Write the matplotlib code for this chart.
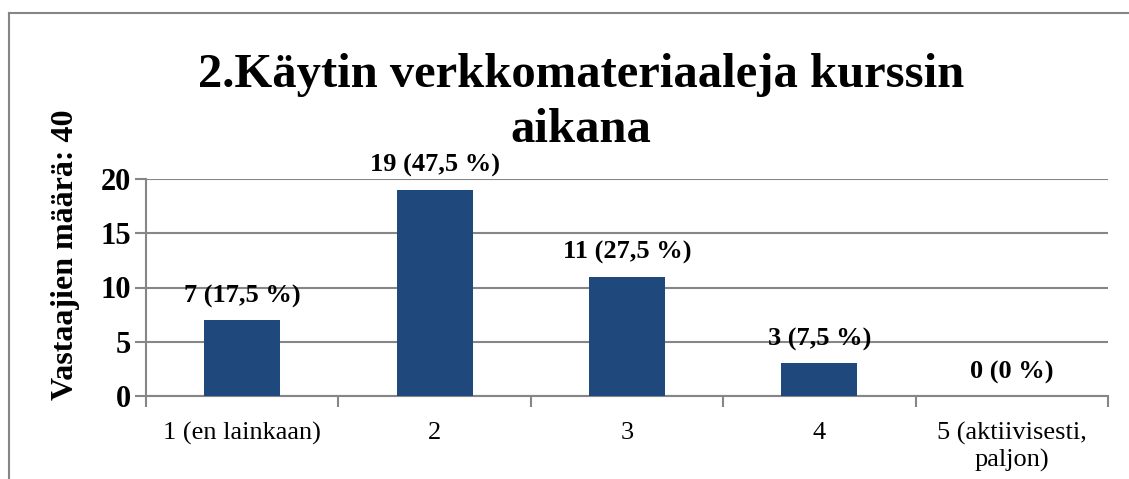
import numpy as np
import matplotlib.pyplot as plt
from matplotlib.lines import Line2D

plt.rcParams['font.family'] = ['Liberation Serif', 'DejaVu Serif']

kategoriat = ['1 (en lainkaan)', '2', '3', '4', '5 (aktiivisesti,\npaljon)']
maarat = [7, 19, 11, 3, 0]
prosentit = ['17,5', '47,5', '27,5', '7,5', '0']

W, H = 1129, 479
fig = plt.figure(figsize=(W / 100, H / 100), dpi=100)
ax = fig.add_axes([146 / W, 1 - 396 / H, (1108 - 146) / W, (396 - 179) / H])

x = np.arange(len(maarat))
ax.bar(x, maarat, width=0.395, color='#1f497d', zorder=3)

ax.set_xlim(-0.5, len(maarat) - 0.5)
ax.set_ylim(0, 20)
ax.set_yticks([0, 5, 10, 15, 20])
ax.yaxis.grid(True, color='#868686', linewidth=1.5, zorder=0)
for s in ['top', 'right']:
    ax.spines[s].set_visible(False)
for s in ['left', 'bottom']:
    ax.spines[s].set_color('#868686')
    ax.spines[s].set_linewidth(1.5)

ax.set_xticks(np.arange(len(maarat) + 1) - 0.5, minor=False)
ax.set_xticklabels([])
ax.set_xticks(x, minor=True)
ax.set_xticklabels(kategoriat, minor=True, fontsize=19, linespacing=1.2, va='top')
ax.tick_params(axis='x', which='major', length=8, width=1.5, color='#868686', direction='out')
ax.tick_params(axis='x', which='minor', length=0, pad=19)
ax.tick_params(axis='y', length=8, width=1.5, color='#868686', pad=3)
for t in ax.get_yticklabels():
    t.set_fontsize(22)
    t.set_fontweight('bold')

for xi, m, p in zip(x, maarat, prosentit):
    ax.annotate(f'{m} ({p} %)', (xi, m), xytext=(0, 9), textcoords='offset points',
                ha='center', va='bottom', fontsize=19, fontweight='bold')

fig.text(581 / W, 1 - 75 / H, '2.Käytin verkkomateriaaleja kurssin', ha='center', va='center',
         fontsize=35, fontweight='bold')
fig.text(581 / W, 1 - 130 / H, 'aikana', ha='center', va='center',
         fontsize=35, fontweight='bold')
fig.text(66 / W, 1 - 255 / H, 'Vastaajien määrä: 40', rotation=90, ha='center', va='center',
         fontsize=23, fontweight='bold')

# kehys (vain ylä- ja vasen reuna näkyvät)
fig.add_artist(Line2D([8.5 / W, 8.5 / W], [0, 1 - 13 / H], color='#868686', linewidth=1.5))
fig.add_artist(Line2D([8.5 / W, 1], [1 - 13 / H, 1 - 13 / H], color='#868686', linewidth=1.5))

fig.savefig('out.png', dpi=100)
